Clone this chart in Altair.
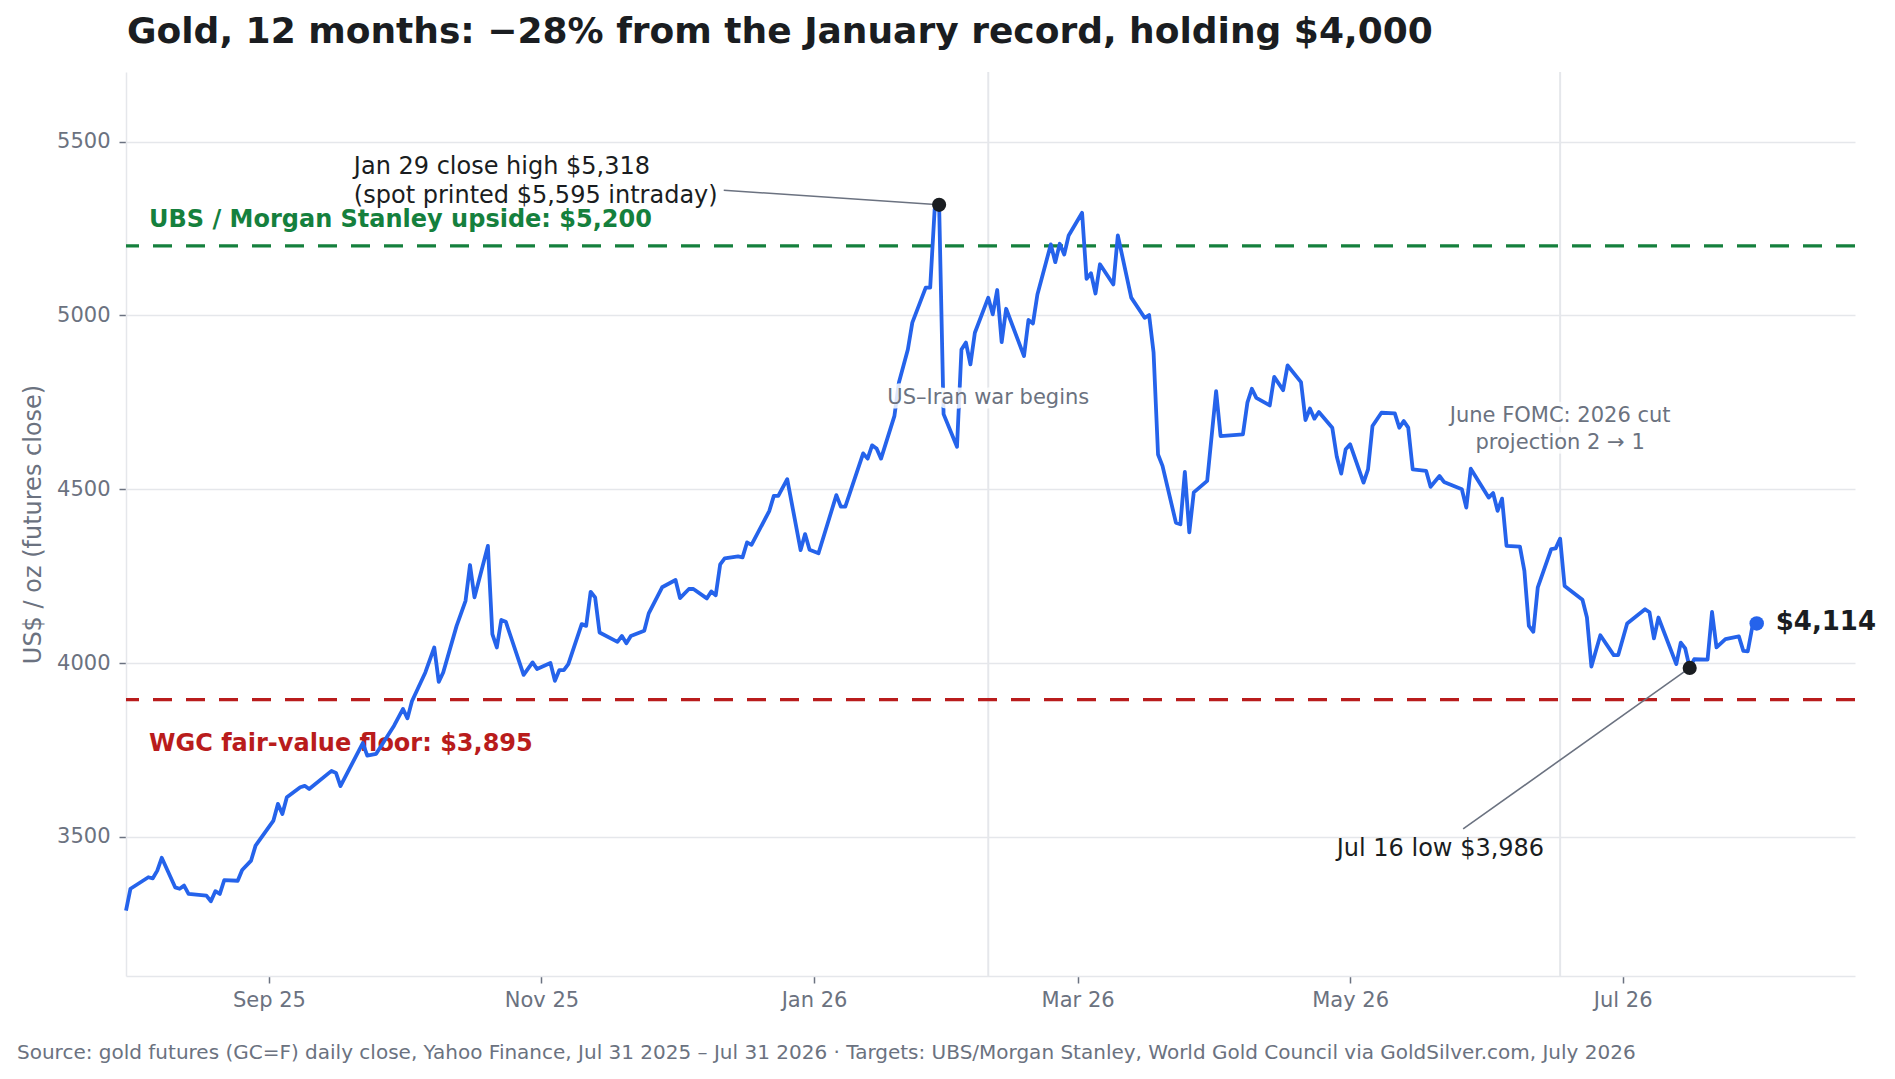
import altair as alt
import pandas as pd

# ---------------- data ----------------
DATES = [
    "2025-07-31", "2025-08-01", "2025-08-05", "2025-08-06", "2025-08-07", "2025-08-08",
    "2025-08-11", "2025-08-12", "2025-08-13", "2025-08-14", "2025-08-18", "2025-08-19",
    "2025-08-20", "2025-08-21", "2025-08-22", "2025-08-25", "2025-08-26", "2025-08-28",
    "2025-08-29", "2025-09-02", "2025-09-03", "2025-09-04", "2025-09-05", "2025-09-08",
    "2025-09-09", "2025-09-10", "2025-09-15", "2025-09-16", "2025-09-17", "2025-09-22",
    "2025-09-23", "2025-09-25", "2025-09-29", "2025-10-01", "2025-10-02", "2025-10-03",
    "2025-10-06", "2025-10-08", "2025-10-09", "2025-10-10", "2025-10-13", "2025-10-15",
    "2025-10-16", "2025-10-17", "2025-10-20", "2025-10-21", "2025-10-22", "2025-10-23",
    "2025-10-24", "2025-10-28", "2025-10-30", "2025-10-31", "2025-11-03", "2025-11-04",
    "2025-11-05", "2025-11-06", "2025-11-07", "2025-11-10", "2025-11-11", "2025-11-12",
    "2025-11-13", "2025-11-14", "2025-11-18", "2025-11-19", "2025-11-20", "2025-11-21",
    "2025-11-24", "2025-11-25", "2025-11-28", "2025-12-01", "2025-12-02", "2025-12-04",
    "2025-12-05", "2025-12-08", "2025-12-09", "2025-12-10", "2025-12-11", "2025-12-12",
    "2025-12-15", "2025-12-16", "2025-12-17", "2025-12-18", "2025-12-22", "2025-12-23",
    "2025-12-24", "2025-12-26", "2025-12-29", "2025-12-30", "2025-12-31", "2026-01-02",
    "2026-01-06", "2026-01-07", "2026-01-08", "2026-01-12", "2026-01-13", "2026-01-14",
    "2026-01-15", "2026-01-16", "2026-01-19", "2026-01-20", "2026-01-22", "2026-01-23",
    "2026-01-26", "2026-01-27", "2026-01-28", "2026-01-29", "2026-01-30", "2026-02-02",
    "2026-02-03", "2026-02-04", "2026-02-05", "2026-02-06", "2026-02-09", "2026-02-10",
    "2026-02-11", "2026-02-12", "2026-02-13", "2026-02-17", "2026-02-18", "2026-02-19",
    "2026-02-20", "2026-02-23", "2026-02-24", "2026-02-25", "2026-02-26", "2026-02-27",
    "2026-03-02", "2026-03-03", "2026-03-04", "2026-03-05", "2026-03-06", "2026-03-09",
    "2026-03-10", "2026-03-13", "2026-03-16", "2026-03-17", "2026-03-18", "2026-03-19",
    "2026-03-20", "2026-03-23", "2026-03-24", "2026-03-25", "2026-03-26", "2026-03-27",
    "2026-03-30", "2026-04-01", "2026-04-02", "2026-04-07", "2026-04-08", "2026-04-09",
    "2026-04-10", "2026-04-13", "2026-04-14", "2026-04-16", "2026-04-17", "2026-04-20",
    "2026-04-21", "2026-04-22", "2026-04-23", "2026-04-24", "2026-04-27", "2026-04-28",
    "2026-04-29", "2026-04-30", "2026-05-01", "2026-05-04", "2026-05-05", "2026-05-06",
    "2026-05-08", "2026-05-11", "2026-05-12", "2026-05-13", "2026-05-14", "2026-05-15",
    "2026-05-18", "2026-05-19", "2026-05-21", "2026-05-22", "2026-05-26", "2026-05-27",
    "2026-05-28", "2026-06-01", "2026-06-02", "2026-06-03", "2026-06-04", "2026-06-05",
    "2026-06-08", "2026-06-09", "2026-06-10", "2026-06-11", "2026-06-12", "2026-06-15",
    "2026-06-16", "2026-06-17", "2026-06-18", "2026-06-22", "2026-06-23", "2026-06-24",
    "2026-06-26", "2026-06-29", "2026-06-30", "2026-07-02", "2026-07-06", "2026-07-07",
    "2026-07-08", "2026-07-09", "2026-07-13", "2026-07-14", "2026-07-15", "2026-07-16",
    "2026-07-17", "2026-07-20", "2026-07-21", "2026-07-22", "2026-07-24", "2026-07-27",
    "2026-07-28", "2026-07-29", "2026-07-30", "2026-07-31",
]
CLOSES = [
    3288, 3351, 3384, 3381, 3403, 3440,
    3355, 3351, 3360, 3336, 3331, 3315,
    3344, 3336, 3376, 3374, 3405, 3432,
    3475, 3547, 3595, 3566, 3614, 3643,
    3647, 3638, 3690, 3684, 3646, 3770,
    3734, 3739, 3820, 3868, 3841, 3890,
    3973, 4045, 3946, 3973, 4107, 4179,
    4282, 4189, 4337, 4083, 4045, 4124,
    4119, 3966, 4002, 3983, 4000, 3949,
    3980, 3980, 3997, 4112, 4107, 4205,
    4189, 4088, 4061, 4078, 4057, 4078,
    4093, 4143, 4218, 4239, 4187, 4213,
    4213, 4186, 4206, 4195, 4284, 4301,
    4307, 4304, 4347, 4340, 4438, 4481,
    4481, 4529, 4325, 4371, 4326, 4316,
    4483, 4450, 4450, 4603, 4588, 4626,
    4617, 4588, 4711, 4807, 4902, 4979,
    5080, 5080, 5305, 5318, 4716, 4622,
    4902, 4922, 4859, 4950, 5051, 5003,
    5073, 4923, 5019, 4883, 4987, 4977,
    5060, 5204, 5153, 5206, 5175, 5230,
    5295, 5105, 5121, 5063, 5147, 5089,
    5230, 5051, 4993, 5001, 4893, 4600,
    4567, 4404, 4399, 4550, 4376, 4491,
    4524, 4782, 4653, 4658, 4749, 4789,
    4763, 4741, 4823, 4785, 4856, 4808,
    4699, 4732, 4703, 4722, 4677, 4594,
    4545, 4615, 4629, 4519, 4557, 4682,
    4720, 4718, 4677, 4696, 4677, 4557,
    4553, 4507, 4538, 4521, 4500, 4447,
    4559, 4476, 4489, 4438, 4473, 4337,
    4335, 4265, 4107, 4090, 4218, 4328,
    4330, 4358, 4222, 4182, 4131, 3990,
    4080, 4023, 4023, 4114, 4155, 4146,
    4071, 4131, 3997, 4059, 4042, 3986,
    4011, 4010, 4147, 4045, 4069, 4077,
    4035, 4034, 4103, 4114,
]

Y_TICKS = [3500, 4000, 4500, 5000, 5500]
X_TICK_MONTHS = [(2025, 9), (2025, 11), (2026, 1), (2026, 3), (2026, 5), (2026, 7)]

TARGET_LEVELS = [5200, 3895]
TARGET_COLORS = ["#15803d", "#b91c1c"]
TARGET_LABELS = ["UBS / Morgan Stanley upside: $5,200", "WGC fair-value floor: $3,895"]
TARGET_LABEL_Y = [5255, 3748]

EVENT_DATES = ["2026-02-09", "2026-06-17"]
EVENT_LABELS = [["US\u2013Iran war begins"], ["June FOMC: 2026 cut", "projection 2 \u2192 1"]]
EVENT_LABEL_Y = [4761, 4710]

ANN_DATES = ["2026-01-29", "2026-07-16"]
ANN_TEXTS = [["Jan 29 close high $5,318", "(spot printed $5,595 intraday)"], ["Jul 16 low $3,986"]]
ANN_TEXT_DATES = ["2025-09-20", "2026-05-21T05:00:00"]
ANN_TEXT_Y = [5427, 3465]
ANN_TEXT_ALIGN = ["left", "center"]
LEADER_START_DATES = ["2025-12-11T19:00:00", "2026-05-26T07:00:00"]
LEADER_START_Y = [5360, 3523]

TITLE = "Gold, 12 months: \u221228% from the January record, holding $4,000"
Y_TITLE = "US$ / oz (futures close)"
FOOTER = ("Source: gold futures (GC=F) daily close, Yahoo Finance, Jul 31 2025 \u2013 Jul 31 2026 \u00b7 "
          "Targets: UBS/Morgan Stanley, World Gold Council via GoldSilver.com, July 2026")

# ---------------- style ----------------
FONT = "DejaVu Sans"
GRAY = "#6b7280"
INK = "#1a1d21"
GRID = "#e5e7eb"
BLUE = "#2563eb"
W, H = 1729, 904

series = pd.DataFrame({"date": pd.to_datetime(DATES), "close": CLOSES})

x_scale = alt.Scale(domain=[alt.DateTime(year=2025, month=7, date=31),
                            alt.DateTime(year=2026, month=8, date=22)])
y_scale = alt.Scale(domain=[3100, 5700], nice=False, zero=False)

x_axis = alt.Axis(
    values=[alt.DateTime(year=y, month=m, date=1) for y, m in X_TICK_MONTHS],
    format="%b %y", grid=False, labelFont=FONT, labelFontSize=21, labelColor=GRAY,
    tickColor=GRAY, tickSize=7, tickWidth=1.5, domainColor=GRID, domainWidth=1.5,
    labelPadding=6,
)
y_axis = alt.Axis(
    values=Y_TICKS, format="d", grid=True, gridColor=GRID, gridWidth=1.5,
    labelFont=FONT, labelFontSize=21, labelColor=GRAY, tickColor=GRAY, tickSize=7,
    tickWidth=1.5, domainColor=GRID, domainWidth=1.5, labelPadding=9,
    titleFont=FONT, titleFontSize=24, titleColor=GRAY, titleFontWeight="normal",
    titleAngle=270, titleX=-93, titleY=H / 2, titleAlign="center", titleBaseline="middle",
)

X = alt.X("date:T", scale=x_scale)
Y = alt.Y("close:Q", scale=y_scale)

layers = []

# event vertical lines
events = pd.DataFrame({"date": pd.to_datetime(EVENT_DATES)})
layers.append(alt.Chart(events).mark_rule(color=GRID, strokeWidth=2).encode(x=X))

# target dashed lines and labels
for lvl, col, lab, ly in zip(TARGET_LEVELS, TARGET_COLORS, TARGET_LABELS, TARGET_LABEL_Y):
    layers.append(
        alt.Chart(pd.DataFrame({"close": [lvl]}))
        .mark_rule(color=col, strokeWidth=3.2, strokeDash=[19, 14])
        .encode(y=Y)
    )
    layers.append(
        alt.Chart(pd.DataFrame({"close": [ly], "t": [lab]}))
        .mark_text(color=col, font=FONT, fontSize=24, fontWeight="bold", align="left",
                   baseline="alphabetic")
        .encode(x=alt.value(23), y=Y, text="t:N")
    )

# main price line
layers.append(
    alt.Chart(series)
    .mark_line(color=BLUE, strokeWidth=3.8, strokeJoin="round")
    .encode(x=alt.X("date:T", scale=x_scale, axis=x_axis, title=None),
            y=alt.Y("close:Q", scale=y_scale, axis=y_axis, title=Y_TITLE))
)

# event labels with white halo
for d, lines, ly in zip(EVENT_DATES, EVENT_LABELS, EVENT_LABEL_Y):
    ev = pd.DataFrame({"date": pd.to_datetime([d]), "close": [ly]})
    layers.append(
        alt.Chart(ev).mark_text(text=lines, font=FONT, fontSize=21, align="center",
                                baseline="middle", lineHeight=26.5, fill="white",
                                stroke="white", strokeWidth=9, strokeOpacity=0.85,
                                strokeJoin="round")
        .encode(x=X, y=Y)
    )
    layers.append(
        alt.Chart(ev).mark_text(text=lines, font=FONT, fontSize=21, align="center",
                                baseline="middle", lineHeight=26.5, color=GRAY)
        .encode(x=X, y=Y)
    )

# leader lines
ann_idx = [DATES.index(d) for d in ANN_DATES]
leaders = pd.DataFrame({
    "date": pd.to_datetime(LEADER_START_DATES),
    "close": LEADER_START_Y,
    "date2": pd.to_datetime([DATES[i] for i in ann_idx]),
    "close2": [CLOSES[i] for i in ann_idx],
})
layers.append(
    alt.Chart(leaders).mark_rule(color=GRAY, strokeWidth=1.6)
    .encode(x=X, y=Y, x2="date2:T", y2="close2:Q")
)

# annotated points
ann_pts = pd.DataFrame({"date": pd.to_datetime([DATES[i] for i in ann_idx]),
                        "close": [CLOSES[i] for i in ann_idx]})
layers.append(
    alt.Chart(ann_pts).mark_circle(color=INK, size=200, opacity=1).encode(x=X, y=Y)
)
last = pd.DataFrame({"date": pd.to_datetime([DATES[-1]]), "close": [CLOSES[-1]],
                     "t": ["${:,}".format(CLOSES[-1])]})
layers.append(
    alt.Chart(last).mark_circle(color=BLUE, size=210, opacity=1).encode(x=X, y=Y)
)
layers.append(
    alt.Chart(last).mark_text(font=FONT, fontSize=26, fontWeight="bold", color=INK,
                              align="left", baseline="middle", dx=19, dy=-1)
    .encode(x=X, y=Y, text="t:N")
)

# annotation texts
for lines, d, ly, al in zip(ANN_TEXTS, ANN_TEXT_DATES, ANN_TEXT_Y, ANN_TEXT_ALIGN):
    layers.append(
        alt.Chart(pd.DataFrame({"date": pd.to_datetime([d]), "close": [ly]}))
        .mark_text(text=lines, font=FONT, fontSize=24, color=INK, align=al,
                   baseline="middle", lineHeight=29)
        .encode(x=X, y=Y)
    )

# title (drawn as text above the plot area)
layers.append(
    alt.Chart(pd.DataFrame({"t": [TITLE]}))
    .mark_text(font=FONT, fontSize=36, fontWeight="bold", color=INK, align="left",
               baseline="alphabetic")
    .encode(x=alt.value(1), y=alt.value(-29), text="t:N")
)

# footer
layers.append(
    alt.Chart(pd.DataFrame({"t": [FOOTER]}))
    .mark_text(font=FONT, fontSize=20, color=GRAY, align="left", baseline="alphabetic")
    .encode(x=alt.value(-109), y=alt.value(987), text="t:N")
)

chart = (
    alt.layer(*layers)
    .properties(
        width=W, height=H,
        autosize=alt.AutoSizeParams(type="none"),
        padding={"left": 118, "top": 64, "right": 28, "bottom": 92},
    )
    .configure_view(strokeWidth=0)
)

chart.save("out.html", embed_options={"renderer": "svg", "actions": False})
